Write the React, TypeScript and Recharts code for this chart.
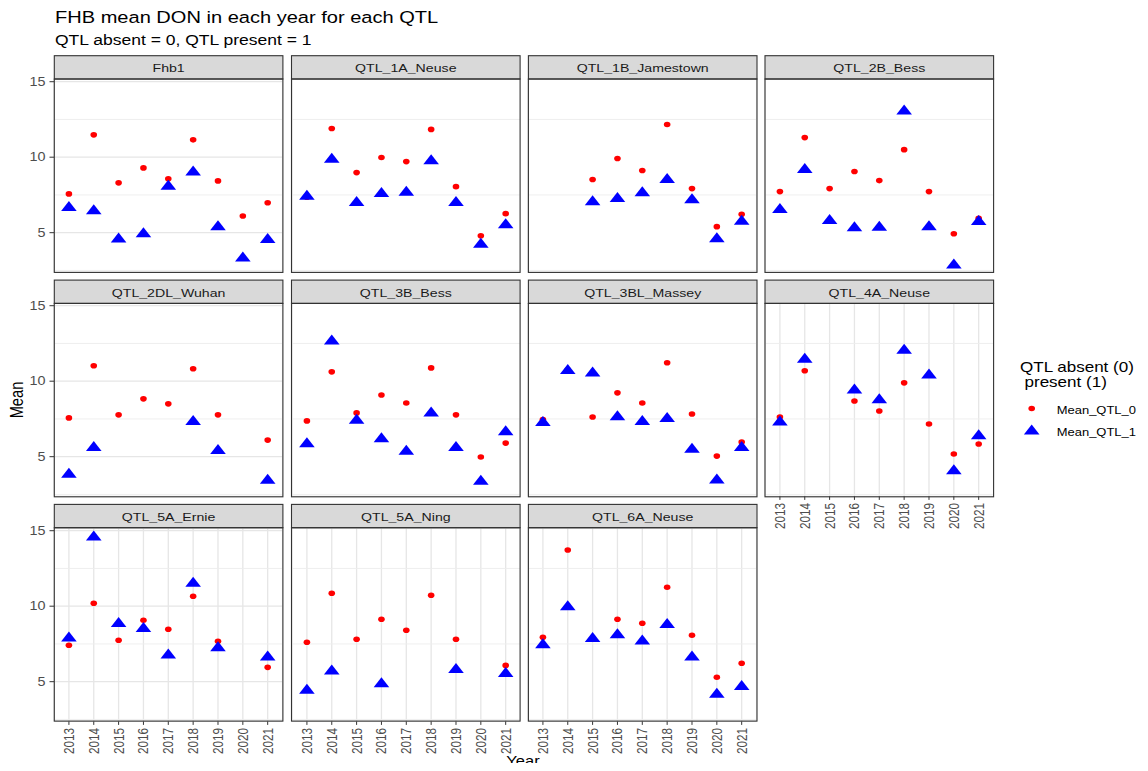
import React from 'react';
import { CartesianGrid, ReferenceLine, Scatter, ScatterChart, XAxis, YAxis } from 'recharts';

// years on the x axis (discrete in the original plot)
const years = [2013, 2014, 2015, 2016, 2017, 2018, 2019, 2020, 2021];
const yTicks = [5, 10, 15];
const yMinor = [2.5, 7.5, 12.5];

// mean DON per year, QTL absent (0) / present (1); null = no data that year
const fhb1Absent = [7.57, 11.48, 8.3, 9.29, 8.57, 11.15, 8.43, 6.11, 6.98];
const fhb1Present = [6.77, 6.56, 4.68, 5.03, 8.17, 9.12, 5.5, 3.42, 4.64];
const neuse1AAbsent = [7.35, 11.9, 8.98, 9.98, 9.71, 11.84, 8.05, 4.8, 6.26];
const neuse1APresent = [7.52, 9.96, 7.1, 7.7, 7.77, 9.87, 7.1, 4.34, 5.62];
const jamestown1BAbsent = [null, null, 8.52, 9.91, 9.12, 12.17, 7.92, 5.4, 6.22];
const jamestown1BPresent = [null, null, 7.15, 7.37, 7.74, 8.63, 7.28, 4.69, 5.86];
const bess2BAbsent = [7.72, 11.3, 7.92, 9.05, 8.45, 10.5, 7.72, 4.93, 5.95];
const bess2BPresent = [6.64, 9.29, 5.91, 5.42, 5.46, 13.16, 5.5, 2.96, 5.84];
const wuhan2DLAbsent = [7.57, 11.02, 7.77, 8.83, 8.5, 10.82, 7.77, null, 6.1];
const wuhan2DLPresent = [3.94, 5.71, null, null, null, 7.43, 5.51, null, 3.54];
const bess3BAbsent = [7.37, 10.62, 7.9, 9.09, 8.56, 10.88, 7.77, 4.98, 5.9];
const bess3BPresent = [5.95, 12.77, 7.52, 6.28, 5.46, 7.99, 5.71, 3.47, 6.75];
const massey3BLAbsent = [7.46, 10.75, 7.63, 9.23, 8.56, 11.22, 7.83, 5.04, 5.97];
const massey3BLPresent = [7.37, 10.8, 10.64, 7.74, 7.43, 7.63, 5.6, 3.56, 5.71];
const neuse4AAbsent = [7.63, 10.69, null, 8.69, 8.03, 9.89, 7.17, 5.18, 5.84];
const neuse4APresent = [7.39, 11.55, null, 9.51, 8.87, 12.15, 10.51, 4.16, 6.48];
const ernie5AAbsent = [7.41, 10.2, 7.74, 9.07, 8.47, 10.66, 7.68, null, 5.95];
const ernie5APresent = [7.99, 14.69, 8.96, 8.63, 6.86, 11.62, 7.35, null, 6.73];
const ning5AAbsent = [7.61, 10.86, 7.81, 9.14, 8.41, 10.73, 7.81, null, 6.08];
const ning5APresent = [4.54, 5.8, null, 4.96, null, null, 5.91, null, 5.64];
const neuse6AAbsent = [7.94, 13.72, 7.81, 9.14, 8.87, 11.26, 8.08, 5.29, 6.22];
const neuse6APresent = [7.54, 10.07, 7.96, 8.21, 7.79, 8.89, 6.73, 4.27, 4.78];

const panels = [
  { name: 'Fhb1', absent: fhb1Absent, present: fhb1Present },
  { name: 'QTL_1A_Neuse', absent: neuse1AAbsent, present: neuse1APresent },
  { name: 'QTL_1B_Jamestown', absent: jamestown1BAbsent, present: jamestown1BPresent },
  { name: 'QTL_2B_Bess', absent: bess2BAbsent, present: bess2BPresent },
  { name: 'QTL_2DL_Wuhan', absent: wuhan2DLAbsent, present: wuhan2DLPresent },
  { name: 'QTL_3B_Bess', absent: bess3BAbsent, present: bess3BPresent },
  { name: 'QTL_3BL_Massey', absent: massey3BLAbsent, present: massey3BLPresent },
  { name: 'QTL_4A_Neuse', absent: neuse4AAbsent, present: neuse4APresent },
  { name: 'QTL_5A_Ernie', absent: ernie5AAbsent, present: ernie5APresent },
  { name: 'QTL_5A_Ning', absent: ning5AAbsent, present: ning5APresent },
  { name: 'QTL_6A_Neuse', absent: neuse6AAbsent, present: neuse6APresent },
];

const toPoints = (values: (number | null)[]) =>
  years.map((year, i) => ({ year, mean: values[i] })).filter((d) => d.mean !== null);

// layout (px)
const FONT = '"Liberation Sans", Arial, Helvetica, sans-serif';
const SX = 1.2; // text in the source image is stretched horizontally
const PW = 228.6;
const PH = 193.4;
const STRIP_H = 23.3;
const colX = [54.3, 291.5, 528.4, 765];
const rowY = [79, 303.4, 527.7];
const YW = 50;
const XH = 38;
const TOP = 10; // room above the plot so the "15" label is not clipped

const XTick = ({ x, y, payload }: any) => (
  <g transform={`translate(${x},${y}) scale(${SX},1)`}>
    <text transform="rotate(-90)" textAnchor="end" dy="0.35em" fontSize={11.8} fill="#4D4D4D" fontFamily={FONT}>
      {payload.value}
    </text>
  </g>
);

const YTick = ({ x, y, payload }: any) => (
  <g transform={`translate(${x},${y}) scale(${SX},1)`}>
    <text textAnchor="end" dy="0.35em" fontSize={12} fill="#4D4D4D" fontFamily={FONT}>
      {payload.value}
    </text>
  </g>
);

const RedDot = (props: any) => <ellipse cx={props.cx} cy={props.cy} rx={3.3} ry={2.8} fill="#FF0000" />;

const BlueTriangle = (props: any) => {
  const { cx, cy } = props;
  return <polygon points={`${cx - 7.8},${cy + 5} ${cx + 7.8},${cy + 5} ${cx},${cy - 5}`} fill="#0000FF" />;
};

const Panel = ({ index }: { index: number }) => {
  const p = panels[index];
  const row = Math.floor(index / 4);
  const col = index % 4;
  const showY = col === 0;
  const showX = row === 2 || index === 7;
  return (
    <div style={{ position: 'absolute', left: colX[col] - YW, top: rowY[row] - TOP }}>
      <ScatterChart width={YW + PW} height={TOP + PH + XH} margin={{ top: TOP, right: 0, bottom: 0, left: 0 }}>
        <CartesianGrid stroke="#E6E6E6" strokeWidth={1.3} />
        {yMinor.map((v) => (
          <ReferenceLine key={v} y={v} stroke="#EDEDED" strokeWidth={0.9} />
        ))}
        <XAxis
          type="number"
          dataKey="year"
          domain={[2012.4, 2021.6]}
          ticks={years}
          interval={0}
          height={XH}
          axisLine={false}
          tickSize={3.5}
          tickMargin={3}
          tickLine={showX ? { stroke: '#333333' } : false}
          tick={showX ? <XTick /> : false}
        />
        <YAxis
          type="number"
          dataKey="mean"
          domain={[2.37, 15.18]}
          ticks={yTicks}
          interval={0}
          width={YW}
          axisLine={false}
          tickSize={4.5}
          tickMargin={4}
          tickLine={showY ? { stroke: '#333333' } : false}
          tick={showY ? <YTick /> : false}
        />
        <Scatter name="Mean_QTL_0" data={toPoints(p.absent)} shape={RedDot} isAnimationActive={false} />
        <Scatter name="Mean_QTL_1" data={toPoints(p.present)} shape={BlueTriangle} isAnimationActive={false} />
      </ScatterChart>
    </div>
  );
};

export default function App() {
  return (
    <div
      style={{
        position: 'relative',
        width: 1148,
        height: 771,
        margin: -8,
        overflow: 'hidden',
        background: '#FFFFFF',
        fontFamily: FONT,
      }}
    >
      {panels.map((_, i) => (
        <Panel key={i} index={i} />
      ))}
      <svg width={1148} height={771} style={{ position: 'absolute', left: 0, top: 0, pointerEvents: 'none' }}>
        <g fontFamily={FONT}>
          <text transform="translate(55,23.3) scale(1.18,1)" fontSize={17} fill="#000000">
            FHB mean DON in each year for each QTL
          </text>
          <text transform={`translate(55,44.7) scale(${SX},1)`} fontSize={14.6} fill="#000000">
            QTL absent = 0, QTL present = 1
          </text>
          {panels.map((p, i) => {
            const x = colX[i % 4];
            const y = rowY[Math.floor(i / 4)];
            return (
              <g key={p.name}>
                <rect x={x} y={y - STRIP_H} width={PW} height={STRIP_H} fill="#D9D9D9" stroke="#333333" strokeWidth={1.1} />
                <rect x={x} y={y} width={PW} height={PH} fill="none" stroke="#333333" strokeWidth={1.1} />
                <text
                  transform={`translate(${x + PW / 2},${y - 6.7}) scale(${SX},1)`}
                  textAnchor="middle"
                  fontSize={11.8}
                  fill="#1A1A1A"
                >
                  {p.name}
                </text>
              </g>
            );
          })}
          <text transform={`translate(22.7,400) scale(${SX},1) rotate(-90)`} textAnchor="middle" fontSize={14.7} fill="#000000">
            Mean
          </text>
          <text transform="translate(523,766) scale(1.1,1)" textAnchor="middle" fontSize={15} fill="#000000">
            Year
          </text>
          <text transform="translate(1020,371.7) scale(1.2,1)" fontSize={14.2} fill="#000000">
            QTL absent (0)
          </text>
          <text transform="translate(1024.5,386.5) scale(1.2,1)" fontSize={14.2} fill="#000000">
            present (1)
          </text>
          <ellipse cx={1031.7} cy={408.5} rx={3.3} ry={2.8} fill="#FF0000" />
          <polygon points="1023.9,434.5 1039.5,434.5 1031.7,424.5" fill="#0000FF" />
          <text transform="translate(1056.7,413.8) scale(1.1,1)" fontSize={11.8} fill="#000000">
            Mean_QTL_0
          </text>
          <text transform="translate(1056.7,435.5) scale(1.1,1)" fontSize={11.8} fill="#000000">
            Mean_QTL_1
          </text>
        </g>
      </svg>
    </div>
  );
}
